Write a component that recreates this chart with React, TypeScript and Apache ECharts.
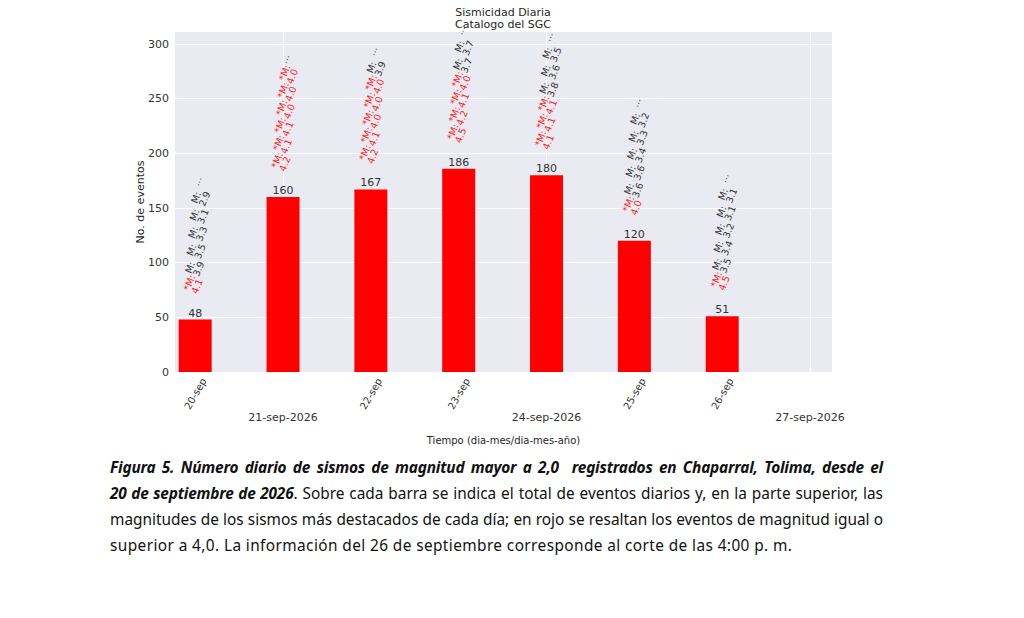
import React, { useEffect, useRef } from "react";
import * as echarts from "echarts";

// datos diarios
const days = [20, 21, 22, 23, 24, 25, 26];
const eventCounts = [48, 160, 167, 186, 180, 120, 51];
const magnitudes = [
  [4.1, 3.9, 3.5, 3.3, 3.1, 2.9],
  [4.2, 4.1, 4.1, 4.0, 4.0, 4.0],
  [4.2, 4.1, 4.0, 4.0, 4.0, 3.9],
  [4.5, 4.2, 4.1, 4.0, 3.7, 3.7],
  [4.1, 4.1, 4.1, 3.8, 3.6, 3.5],
  [4.0, 3.6, 3.6, 3.4, 3.3, 3.2],
  [4.5, 3.5, 3.4, 3.2, 3.1, 3.1],
];
const highlightFrom = 4.0;

// ejes
const minorTickDays = [20, 22, 23, 25, 26];
const minorTickLabels = ["20-sep", "22-sep", "23-sep", "25-sep", "26-sep"];
const majorTickDays = [21, 24, 27];
const majorTickLabels = ["21-sep-2026", "24-sep-2026", "27-sep-2026"];
const yTicks = [0, 50, 100, 150, 200, 250, 300];

const X_MIN = 19.77;
const X_MAX = 27.25;

interface LabelItem {
  day: number;
  count: number;
  rank: number;
  text: string;
  red: boolean;
}

const labelItems: LabelItem[] = [];
days.forEach((day, i) => {
  magnitudes[i].forEach((m, k) => {
    const red = m >= highlightFrom;
    labelItems.push({
      day,
      count: eventCounts[i],
      rank: k,
      text: (red ? "*M:" : "M:") + "\n" + m.toFixed(1),
      red,
    });
  });
  labelItems.push({ day, count: eventCounts[i], rank: magnitudes[i].length, text: "...", red: false });
});

const Chart: React.FC = () => {
  const chartRef = useRef<HTMLDivElement>(null);

  useEffect(() => {
    if (!chartRef.current) return;
    const myChart = echarts.init(chartRef.current, null, { renderer: "svg" });

    const option: any = {
      animation: false,
      backgroundColor: "#ffffff",
      textStyle: { fontFamily: "DejaVu Sans" },
      grid: {
        left: 175,
        right: 192,
        top: 32,
        bottom: 78,
        show: true,
        backgroundColor: "#eaeaf2",
        borderWidth: 0,
      },
      graphic: [
        {
          type: "text",
          x: 503,
          y: 6,
          style: {
            text: "Sismicidad Diaria\nCatalogo del SGC",
            align: "center",
            fill: "#262626",
            font: "11px DejaVu Sans",
            lineHeight: 12,
          },
        },
      ],
      xAxis: [
        {
          type: "value",
          min: X_MIN,
          max: X_MAX,
          axisLine: { show: false },
          axisTick: { show: false, customValues: minorTickDays },
          splitLine: { show: false },
          axisLabel: {
            customValues: minorTickDays,
            formatter: (v: number) => minorTickLabels[minorTickDays.indexOf(v)] ?? "",
            rotate: 60,
            align: "right",
            verticalAlign: "top",
            lineHeight: 20,
            fontSize: 10,
            color: "#333333",
            margin: 2,
          },
        },
        {
          type: "value",
          min: X_MIN,
          max: X_MAX,
          position: "bottom",
          offset: 32,
          axisLine: { show: false },
          axisTick: { show: false, customValues: majorTickDays },
          splitLine: { show: true, lineStyle: { color: "#ffffff", width: 1 } },
          axisLabel: {
            customValues: majorTickDays,
            formatter: (v: number) => majorTickLabels[majorTickDays.indexOf(v)] ?? "",
            fontSize: 11,
            color: "#333333",
            margin: 8,
          },
          name: "Tiempo (dia-mes/dia-mes-año)",
          nameLocation: "middle",
          nameGap: 31,
          nameMoveOverlap: false,
          nameTextStyle: { fontSize: 10, color: "#262626" },
        },
      ],
      yAxis: {
        type: "value",
        min: 0,
        max: 311,
        axisLine: { show: false },
        axisTick: { show: false, customValues: yTicks },
        splitLine: { show: true, lineStyle: { color: "#ffffff", width: 1 } },
        axisLabel: { customValues: yTicks, fontSize: 11, color: "#333333", margin: 6 },
        name: "No. de eventos",
        nameLocation: "middle",
        nameGap: 29,
        nameMoveOverlap: false,
        nameTextStyle: { fontSize: 11, color: "#262626" },
      },
      series: [
        {
          type: "bar",
          xAxisIndex: 0,
          data: days.map((d, i) => [d, eventCounts[i]]),
          barWidth: 33,
          itemStyle: { color: "#ff0000" },
          label: {
            show: true,
            position: "top",
            distance: 1,
            fontSize: 11,
            color: "#333333",
            formatter: (p: any) => String(p.value[1]),
          },
        },
        {
          type: "custom",
          xAxisIndex: 0,
          clip: false,
          data: labelItems.map((it) => [it.day, it.count]),
          encode: { x: 0, y: 1 },
          renderItem: (params: any, api: any) => {
            const it = labelItems[params.dataIndex];
            const pt = api.coord([api.value(0), api.value(1)]);
            return {
              type: "text",
              x: pt[0] - 13 + it.rank * 1.5,
              y: pt[1] - 31 - it.rank * 17.5,
              rotation: (68 * Math.PI) / 180,
              style: {
                text: it.text,
                fill: it.red ? "#ff1a1a" : "#333333",
                font: "9.5px DejaVu Sans",
                lineHeight: 8.5,
                align: "left",
                verticalAlign: "top",
              },
            };
          },
        },
      ],
    };

    myChart.setOption(option);
    return () => {
      myChart.dispose();
    };
  }, []);

  return <div ref={chartRef} style={{ width: 1024, height: 450 }} />;
};

const lineStyle: React.CSSProperties = {
  width: 773,
  whiteSpace: "nowrap",
  textAlign: "justify",
  textAlignLast: "justify",
};

const boldStyle: React.CSSProperties = { fontWeight: 700, fontStyle: "italic", letterSpacing: "-0.2px" };

const App: React.FC = () => {
  return (
    <div style={{ position: "absolute", left: 0, top: 0, width: 1024, height: 618, background: "#ffffff" }}>
      <Chart />
      <div
        style={{
          position: "absolute",
          left: 110,
          top: 455,
          fontFamily: '"Noto Sans", sans-serif',
          fontSize: 15.4,
          lineHeight: "26px",
          color: "#111111",
        }}
      >
        <div style={lineStyle}>
          <span style={boldStyle}>Figura 5. Número diario de sismos de magnitud mayor a 2,0&nbsp; registrados en Chaparral, Tolima, desde el</span>
        </div>
        <div style={lineStyle}>
          <span style={boldStyle}>20 de septiembre de 2026</span>. Sobre cada barra se indica el total de eventos diarios y, en la parte superior, las
        </div>
        <div style={lineStyle}>
          magnitudes de los sismos más destacados de cada día; en rojo se resaltan los eventos de magnitud igual o
        </div>
        <div style={{ whiteSpace: "nowrap", letterSpacing: "0.4px" }}>
          superior a 4,0. La información del 26 de septiembre corresponde al corte de las 4:00 p. m.
        </div>
      </div>
    </div>
  );
};

export default App;
